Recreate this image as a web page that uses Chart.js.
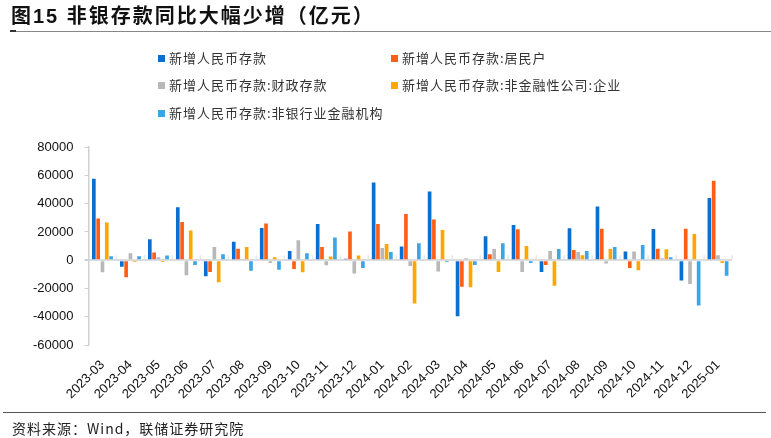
<!DOCTYPE html>
<html><head><meta charset="utf-8">
<script src="https://cdn.jsdelivr.net/npm/chart.js@4.4.1/dist/chart.umd.min.js"></script>
<style>
html,body{margin:0;padding:0;background:#fff;}
body{width:771px;height:438px;position:relative;overflow:hidden;font-family:"Liberation Sans","Noto Sans CJK SC",sans-serif;}
#wrap{position:absolute;left:0;top:0;width:771px;height:438px;}
#title{position:absolute;left:11px;top:3px;font-size:20px;font-weight:bold;color:#111;font-family:"Liberation Sans","Noto Sans CJK SC",sans-serif;letter-spacing:2px;line-height:26px;}
#tline{position:absolute;left:10px;right:0;top:31px;height:1px;background:#888;}
#tmark{position:absolute;left:10px;width:6px;top:30px;height:2px;background:#333;}
#bline{position:absolute;left:3px;right:5px;top:412px;height:1px;background:#555;}
#src{position:absolute;left:12px;top:418px;font-size:14px;letter-spacing:1px;color:#222;font-family:"Noto Sans CJK SC",sans-serif;line-height:20px;}
.lg{position:absolute;font-size:13px;letter-spacing:1px;color:#333;font-family:"Noto Sans CJK SC",sans-serif;white-space:nowrap;line-height:16px;}
.lg i{display:inline-block;width:7px;height:7px;margin-right:4px;vertical-align:1px;}
</style></head>
<body>
<div id="wrap"><canvas id="c" width="771" height="438"></canvas></div>
<div id="title">图15 非银存款同比大幅少增（亿元）</div>
<div id="tline"></div><div id="tmark"></div>
<div id="legend"></div>
<div id="bline"></div>
<div id="src">资料来源：Wind，联储证券研究院</div>
<script>
const categories = ["2023-03","2023-04","2023-05","2023-06","2023-07","2023-08","2023-09","2023-10","2023-11","2023-12","2024-01","2024-02","2024-03","2024-04","2024-05","2024-06","2024-07","2024-08","2024-09","2024-10","2024-11","2024-12","2025-01"];
const seriesNames = ["新增人民币存款","新增人民币存款:居民户","新增人民币存款:财政存款","新增人民币存款:非金融性公司:企业","新增人民币存款:非银行业金融机构"];
const totalDeposits   = [57500,-4600,14900,37500,-11300,13000,22800,6500,25700,1000,55000,9800,48500,-39500,17000,25000,-8200,22600,38000,6200,22100,-14200,44000];
const household       = [29500,-12000,5500,27000,-8200,8200,25900,-6200,9400,20400,25700,32700,28800,-18700,4300,21900,-3400,7200,22300,-5500,8200,22300,56200];
const fiscal          = [-8400,5000,2200,-10600,9400,500,-1900,14200,-3600,-9400,8600,-4100,-7900,1400,7900,-8200,6500,5800,-2200,6200,1400,-16800,3600];
const corporate       = [26600,-1200,-1200,21100,-15600,9400,2200,-8400,2600,3400,11500,-30500,21400,-19000,-8200,10100,-18000,3600,7900,-7000,7700,18500,-1900];
const nonBankFin      = [2900,2900,3400,-3400,4300,-7400,-6700,5000,16100,-5500,5800,12000,-1200,-3400,12000,-1900,7900,6500,9400,10800,2200,-31900,-11000];
const yTicks = [-60000,-40000,-20000,0,20000,40000,60000,80000];
const colors = ["#0A6FD0","#FF5F14","#B8B8B8","#FFA600","#3AA6E6"];

const seriesData = [totalDeposits, household, fiscal, corporate, nonBankFin];

// HTML legend
const legendPos = [[158,50],[391,50],[158,77],[391,77],[158,105]];
const lg = document.getElementById('legend');
seriesNames.forEach((n,i)=>{
  const d=document.createElement('div');d.className='lg';
  d.style.left=legendPos[i][0]+'px';d.style.top=legendPos[i][1]+'px';
  d.innerHTML='<i style="background:'+colors[i]+'"></i>'+n;
  lg.appendChild(d);
});

const catTicks = {
  id:'catTicks',
  afterDatasetsDraw(chart){
    const x=chart.scales.x, y=chart.scales.y, ctx=chart.ctx;
    const y0=y.getPixelForValue(0);
    const w=x.getPixelForValue(1)-x.getPixelForValue(0);
    ctx.save();ctx.strokeStyle='#e6e6e6';ctx.lineWidth=1.5;
    for(let i=0;i<categories.length;i++){
      const px=x.getPixelForValue(i)+w/2;
      ctx.beginPath();ctx.moveTo(px,y0-1);ctx.lineTo(px,y0-5);ctx.stroke();
    }
    ctx.restore();
  }
};

new Chart(document.getElementById('c'),{
  type:'bar',
  data:{labels:categories,datasets:seriesData.map((d,i)=>({label:seriesNames[i],data:d,backgroundColor:colors[i],borderWidth:0,barPercentage:0.85,categoryPercentage:0.77}))},
  options:{
    responsive:false,animation:false,
    layout:{padding:{top:147,left:22,right:39,bottom:24}},
    plugins:{legend:{display:false},tooltip:{enabled:false}},
    scales:{
      x:{
        grid:{display:false,drawTicks:false},
        border:{display:false},
        ticks:{color:'#111',font:{family:'Liberation Sans',size:13},minRotation:45,maxRotation:45,padding:12,autoSkip:false}
      },
      y:{
        min:-60000,max:80000,
        afterBuildTicks(s){s.ticks=yTicks.map(v=>({value:v}));},
        grid:{drawOnChartArea:true,drawTicks:true,tickLength:4,
          color:(c)=>c.tick&&c.tick.value===0?'#dcdcdc':'rgba(0,0,0,0)',
          lineWidth:(c)=>c.tick&&c.tick.value===0?2:1,
          tickColor:'#d0d0d0'},
        border:{display:true,color:'#d0d0d0',width:1.5},
        ticks:{color:'#111',font:{family:'Liberation Sans',size:13},padding:11,callback:(v)=>String(v)}
      }
    }
  },
  plugins:[catTicks]
});
</script>
</body></html>
